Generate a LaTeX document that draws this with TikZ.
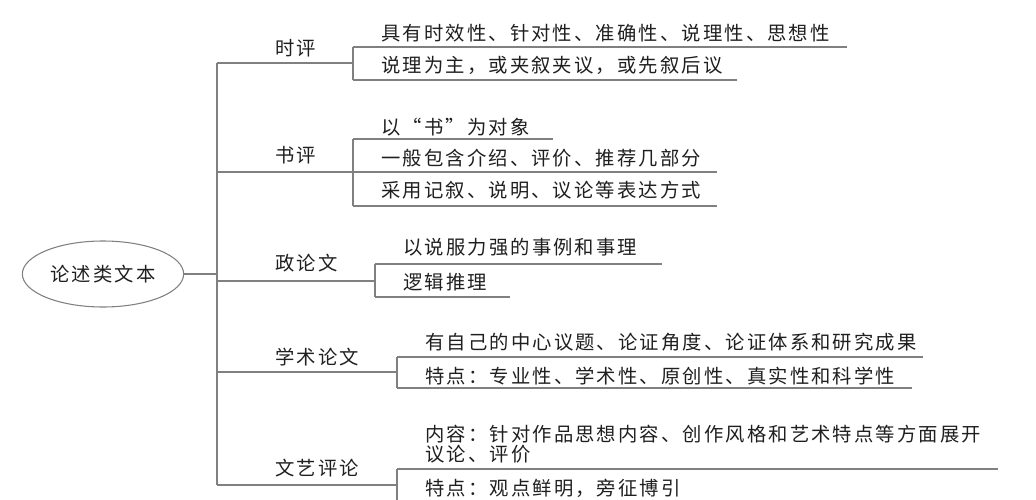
\documentclass[tikz,border=0pt]{standalone}
\usepackage{fontspec}
\usepackage{xcolor}
\newfontfamily\cjk[LetterSpace=11]{Noto Sans CJK SC}
\usetikzlibrary{shapes.geometric, positioning}
\definecolor{linegray}{gray}{0.5}
\definecolor{inkblack}{gray}{0.12}

\begin{document}
\begin{tikzpicture}[x=0.75pt, y=-0.75pt, font=\cjk\fontsize{14.5}{13.5}\selectfont, text=inkblack,
	link/.style={draw=linegray, line width=1.2pt},
	topic/.style={anchor=base west, inner sep=0pt},
	item/.style={anchor=base west, inner sep=0pt, align=left}]
	\useasboundingbox				(0,0) rectangle (1036,500);
	\clip						(0,0) rectangle (1036,500);
	\node[ellipse, draw=linegray, line width=0.8pt, minimum width=118.5pt, minimum height=49.5pt] (root) at (103,274) {论述类文本};
	\coordinate (trunk) at (217,274);
	\coordinate (j1) at (217,63);		\coordinate (b1) at (353,63);
	\coordinate (j2) at (217,172);		\coordinate (b2) at (353,172);
	\coordinate (j3) at (217,281);		\coordinate (b3) at (375,281);
	\coordinate (j4) at (217,372);		\coordinate (b4) at (397,372);
	\coordinate (j5) at (217,485);		\coordinate (b5) at (397,485);
	\draw[link]					(root.east) -- (trunk);
	\draw[link]					(j1) -- (j5);
	\node[topic] (shiping) at (275,55) {时评};
	\node[topic] (shuping) at (275,162) {书评};
	\node[topic] (zhenglun) at (275,270) {政论文};
	\node[topic] (xueshu) at (275,364) {学术论文};
	\node[topic] (wenyi) at (275,475) {文艺评论};
	\draw[link]					(j1) -- (b1);
	\draw[link]					(j2) -- (b2);
	\draw[link]					(j3) -- (b3);
	\draw[link]					(j4) -- (b4);
	\draw[link]					(j5) -- (b5);
	\coordinate (b1a) at (353,47);		\coordinate (e1a) at (847,47);
	\coordinate (b1b) at (353,80);		\coordinate (e1b) at (737,80);
	\node[item] (sp1) at (381,40) {具有时效性、针对性、准确性、说理性、思想性};
	\node[item] (sp2) at (381,72) {说理为主，或夹叙夹议，或先叙后议};
	\draw[link]					(b1a) -- (b1b);
	\draw[link]					(b1a) -- (e1a);
	\draw[link]					(b1b) -- (e1b);
	\coordinate (b2a) at (353,139);		\coordinate (e2a) at (553,139);
	\coordinate (e2b) at (717,172);
	\coordinate (b2c) at (353,206);		\coordinate (e2c) at (717,206);
	\node[item] (sh1) at (381,134) {以“书”为对象};
	\node[item] (sh2) at (381,165) {一般包含介绍、评价、推荐几部分};
	\node[item] (sh3) at (381,197) {采用记叙、说明、议论等表达方式};
	\draw[link]					(b2a) -- (b2c);
	\draw[link]					(b2a) -- (e2a);
	\draw[link]					(b2) -- (e2b);
	\draw[link]					(b2c) -- (e2c);
	\coordinate (b3a) at (375,264);		\coordinate (e3a) at (662,264);
	\coordinate (b3b) at (375,297);		\coordinate (e3b) at (510,297);
	\node[item] (zl1) at (403,254) {以说服力强的事例和事理};
	\node[item] (zl2) at (403,289) {逻辑推理};
	\draw[link]					(b3a) -- (b3b);
	\draw[link]					(b3a) -- (e3a);
	\draw[link]					(b3b) -- (e3b);
	\coordinate (b4a) at (397,357);		\coordinate (e4a) at (923,357);
	\coordinate (b4b) at (397,388);		\coordinate (e4b) at (912,388);
	\node[item] (xs1) at (425,349) {有自己的中心议题、论证角度、论证体系和研究成果};
	\node[item] (xs2) at (425,383) {特点：专业性、学术性、原创性、真实性和科学性};
	\draw[link]					(b4a) -- (b4b);
	\draw[link]					(b4a) -- (e4a);
	\draw[link]					(b4b) -- (e4b);
	\coordinate (b5a) at (397,469);		\coordinate (e5a) at (998,469);
	\coordinate (b5b) at (397,510);
	\node[item] (wy1) at (425,461) {内容：针对作品思想内容、创作风格和艺术特点等方面展开\\[1.5pt]议论、评价};
	\node[item] (wy2) at (425,495) {特点：观点鲜明，旁征博引};
	\draw[link]					(b5a) -- (b5b);
	\draw[link]					(b5a) -- (e5a);
\end{tikzpicture}
\end{document}
